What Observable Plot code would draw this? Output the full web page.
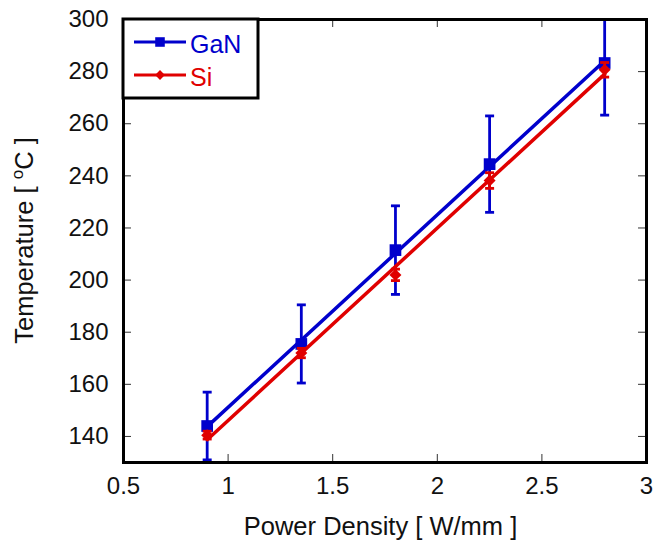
<!DOCTYPE html>
<html>
<head>
<meta charset="utf-8">
<script src="https://cdn.jsdelivr.net/npm/d3@7"></script>
<script src="https://cdn.jsdelivr.net/npm/@observablehq/plot@0.6"></script>
<style>
  body { margin: 0; background: #fff; }
  #chart svg { display: block; }
</style>
</head>
<body>
<div id="chart"></div>
<script>
// Junction temperature versus dissipated power density, GaN vs Si substrate
const powerDensity = [0.9, 1.35, 1.8, 2.25, 2.8];
const ganTemp = [144, 175.5, 211.5, 244.5, 283.3];
const ganErr = [13, 15, 17, 18.5, 20];
const siTemp = [140.5, 172, 202, 238.2, 280.7];
const siErr = [1.5, 1.8, 2.2, 3, 2.8];

const seriesNames = ["GaN", "Si"];
const seriesColors = ["#0000cc", "#e00000"];
const seriesSymbols = ["square", "diamond2"];
const seriesRadius = [6.6, 5.4];

const xTicks = [0.5, 1, 1.5, 2, 2.5, 3];
const yTicks = [140, 160, 180, 200, 220, 240, 260, 280, 300];
const xLabel = "Power Density [ W/mm ]";

const W = 655, H = 544;
const margin = {top: 19, right: 9, bottom: 82, left: 123};
const plotW = W - margin.left - margin.right;
const plotH = H - margin.top - margin.bottom;
const tickLen = 8;
const font = "'Liberation Sans', Arial, Helvetica, sans-serif";

const rows = (temps, errs) => powerDensity.map((x, i) => ({
  x, y: temps[i], lo: temps[i] - errs[i], hi: temps[i] + errs[i]
}));
const series = [rows(ganTemp, ganErr), rows(siTemp, siErr)];

// horizontal cap for error bars, width equal to the dot diameter
const capSymbol = {
  draw(context, size) {
    const r = Math.sqrt(size / Math.PI);
    context.moveTo(-r, 0);
    context.lineTo(r, 0);
  }
};

const seriesMarks = series.flatMap((data, k) => {
  const c = seriesColors[k];
  return [
    // least-squares fit through each series
    Plot.linearRegressionY(data, {x: "x", y: "y", stroke: c, strokeWidth: 3.5, ci: 0, clip: true}),
    Plot.ruleX(data, {x: "x", y1: "lo", y2: "hi", stroke: c, strokeWidth: 2.8, clip: true}),
    Plot.dot(data, {x: "x", y: "lo", symbol: capSymbol, r: 4.5, stroke: c, strokeWidth: 2.8, fill: "none", clip: true}),
    Plot.dot(data, {x: "x", y: "hi", symbol: capSymbol, r: 4.5, stroke: c, strokeWidth: 2.8, fill: "none", clip: true}),
    Plot.dot(data, {x: "x", y: "y", symbol: seriesSymbols[k], r: seriesRadius[k], fill: c, stroke: "none"})
  ];
});

const svg = Plot.plot({
  width: W,
  height: H,
  marginTop: margin.top,
  marginRight: margin.right,
  marginBottom: margin.bottom,
  marginLeft: margin.left,
  style: {fontFamily: font, background: "#fff", color: "#000"},
  x: {domain: [0.5, 3], label: null},
  y: {domain: [130, 300], label: null},
  marks: [
    // inward ticks on all four sides
    Plot.tickX(xTicks, {x: d => d, insetTop: plotH - tickLen, stroke: "#333", strokeWidth: 1}),
    Plot.tickX(xTicks, {x: d => d, insetBottom: plotH - tickLen, stroke: "#333", strokeWidth: 1}),
    Plot.tickY(yTicks, {y: d => d, insetRight: plotW - tickLen, stroke: "#333", strokeWidth: 1}),
    Plot.tickY(yTicks, {y: d => d, insetLeft: plotW - tickLen, stroke: "#333", strokeWidth: 1}),
    Plot.axisX(xTicks, {tickSize: 0, tickPadding: 14, fontSize: 24, fill: "#111", label: null, tickFormat: d => String(d)}),
    Plot.axisY(yTicks, {tickSize: 0, tickPadding: 15, fontSize: 24, fill: "#111", label: null, tickFormat: d => String(d)}),
    ...seriesMarks,
    Plot.frame({stroke: "#000", strokeWidth: 3})
  ]
});

const root = d3.select(svg);

// axis titles
root.append("text")
  .attr("x", margin.left + plotW / 2 - 4)
  .attr("y", 535)
  .attr("text-anchor", "middle")
  .attr("font-family", font)
  .attr("font-size", 25.5)
  .attr("fill", "#111")
  .text(xLabel);

const yTitle = root.append("text")
  .attr("transform", `translate(33,${margin.top + plotH / 2}) rotate(-90)`)
  .attr("text-anchor", "middle")
  .attr("font-family", font)
  .attr("font-size", 25.5)
  .attr("fill", "#111");
yTitle.append("tspan").text("Temperature [ ");
yTitle.append("tspan").attr("font-size", 17).attr("dy", -10).text("o");
yTitle.append("tspan").attr("dy", 10).text("C ]");

// legend box in the upper-left corner of the frame
const lg = root.append("g");
lg.append("rect")
  .attr("x", margin.left).attr("y", margin.top)
  .attr("width", 135).attr("height", 79)
  .attr("fill", "#fff").attr("stroke", "#000").attr("stroke-width", 3);
seriesNames.forEach((name, k) => {
  const cy = 42 + k * 33;
  lg.append("line")
    .attr("x1", 134).attr("x2", 186).attr("y1", cy).attr("y2", cy)
    .attr("stroke", seriesColors[k]).attr("stroke-width", 3);
  lg.append("path")
    .attr("transform", `translate(160,${cy})`)
    .attr("d", d3.symbol(k === 0 ? d3.symbolSquare : d3.symbolDiamond2, Math.PI * (k === 0 ? 5.4 : 4.4) ** 2)())
    .attr("fill", seriesColors[k]);
  lg.append("text")
    .attr("x", 190).attr("y", cy + 11)
    .attr("text-anchor", "start")
    .attr("font-family", font).attr("font-size", 25)
    .attr("fill", seriesColors[k])
    .text(name);
});

document.getElementById("chart").appendChild(svg);
</script>
</body>
</html>
